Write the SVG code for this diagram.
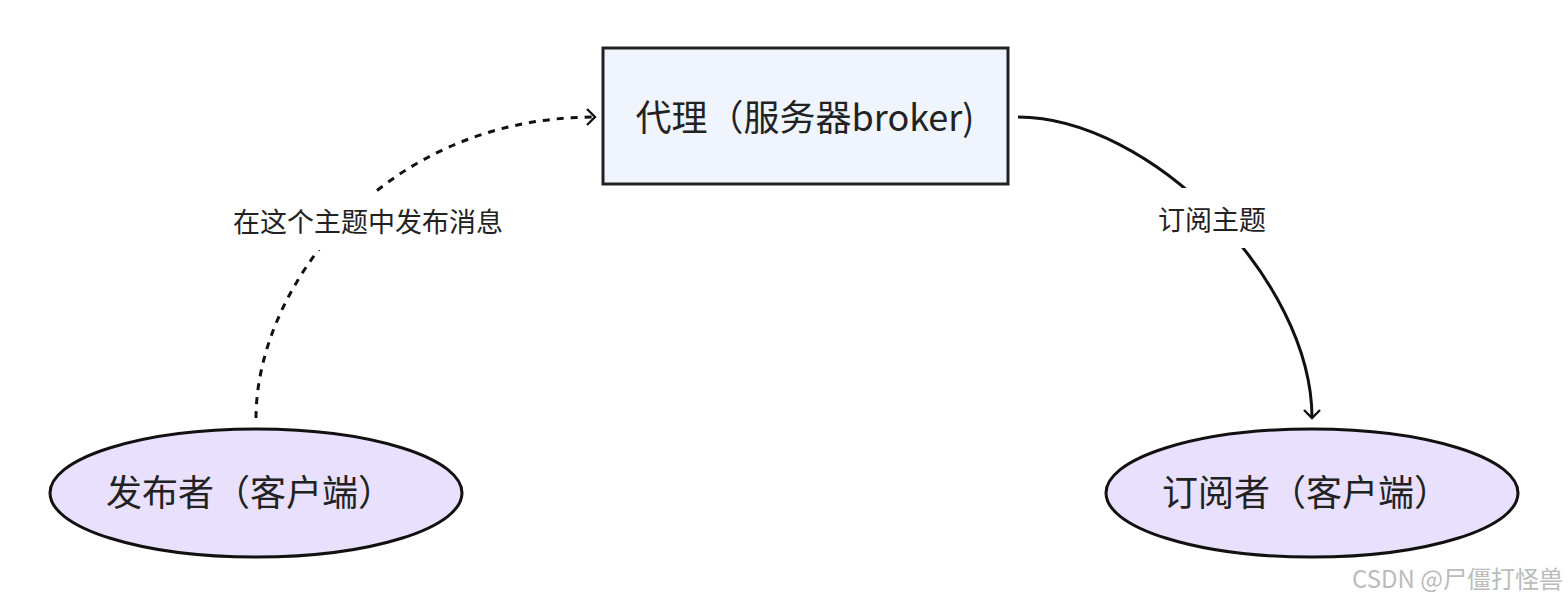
<svg xmlns="http://www.w3.org/2000/svg" width="1568" height="608" viewBox="0 0 1568 608">
<style>
text{font-family:"Noto Sans CJK SC","Noto Sans",sans-serif;fill:#222}
.n{font-size:36px}
.l{font-size:27px}
.c{fill:none;stroke:#111;stroke-width:3}
</style>
<defs><marker id="a" viewBox="0 0 12 12" refX="10" refY="6" markerWidth="8" markerHeight="8" markerUnits="userSpaceOnUse" orient="auto" overflow="visible"><path d="M-2,-6 L10,6 L-2,18" fill="none" stroke="#111" stroke-width="3.5"/></marker></defs>
<rect width="1568" height="608" fill="#fff"/>
<g id="connectors">
<path class="c" stroke-dasharray="7,7" d="M256,418 C256,290 380,117 595,117" marker-end="url(#a)"/>
<path class="c" d="M1018,117 C1150,117 1312,280 1312,418" marker-end="url(#a)"/>
<rect x="222" y="192" width="294" height="58" fill="#fff"/>
<text class="l" x="368" y="232" text-anchor="middle">在这个主题中发布消息</text>
<rect x="1148" y="188" width="128" height="60" fill="#fff"/>
<text class="l" x="1212" y="230" text-anchor="middle">订阅主题</text>
</g>
<g id="broker"><rect x="603" y="48" width="405" height="136" fill="#eff4fd" stroke="#222" stroke-width="3"/>
<text class="n" x="805" y="131" text-anchor="middle">代理（服务器broker)</text></g>
<g id="publisher"><ellipse cx="256" cy="493" rx="206" ry="64" fill="#e8e0fc" stroke="#111" stroke-width="3"/>
<text class="n" x="250" y="506" text-anchor="middle">发布者（客户端）</text></g>
<g id="subscriber"><ellipse cx="1312" cy="493" rx="206" ry="64" fill="#e8e0fc" stroke="#111" stroke-width="3"/>
<text class="n" x="1306" y="506" text-anchor="middle">订阅者（客户端）</text></g>
<text x="1563" y="588" text-anchor="end" style="font-size:24px;fill:#bbb">CSDN @尸僵打怪兽</text>
</svg>
